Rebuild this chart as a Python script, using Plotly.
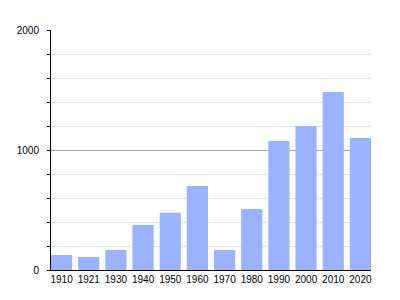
import plotly.graph_objects as go

years = ["1910", "1921", "1930", "1940", "1950", "1960", "1970", "1980", "1990", "2000", "2010", "2020"]
population = [125, 108, 167, 375, 478, 700, 167, 508, 1075, 1200, 1483, 1100]
y_ticks = [0, 1000, 2000]
y_tick_labels = ["0", "1000", "2000"]

fig = go.Figure(go.Bar(x=years, y=population, marker=dict(color="#9bb3ff", line=dict(width=0))))

fig.update_layout(
    width=400, height=300,
    margin=dict(l=51, r=29, t=30, b=30),
    paper_bgcolor="white", plot_bgcolor="white",
    bargap=0.22,
    showlegend=False,
    font=dict(family="Liberation Sans, Arial, sans-serif", size=10, color="black"),
)
fig.update_xaxes(
    type="category", range=[-0.39, 11.39],
    showline=True, linecolor="black", linewidth=1,
    ticks="", showgrid=False, tickfont=dict(size=10), ticklabelstandoff=0,
)
fig.update_yaxes(
    range=[0, 2000], tickvals=y_ticks, ticktext=y_tick_labels,
    showline=True, linecolor="black", linewidth=1,
    ticks="outside", ticklen=3, tickcolor="black",
    showgrid=True, gridcolor="#a8a8a8", gridwidth=1,
    minor=dict(dtick=200, ticks="outside", ticklen=3, tickcolor="black", showgrid=True, gridcolor="#e2e2e2"),
    zeroline=False, tickfont=dict(size=10), ticklabelstandoff=6,
)

fig.write_html("out.html")
